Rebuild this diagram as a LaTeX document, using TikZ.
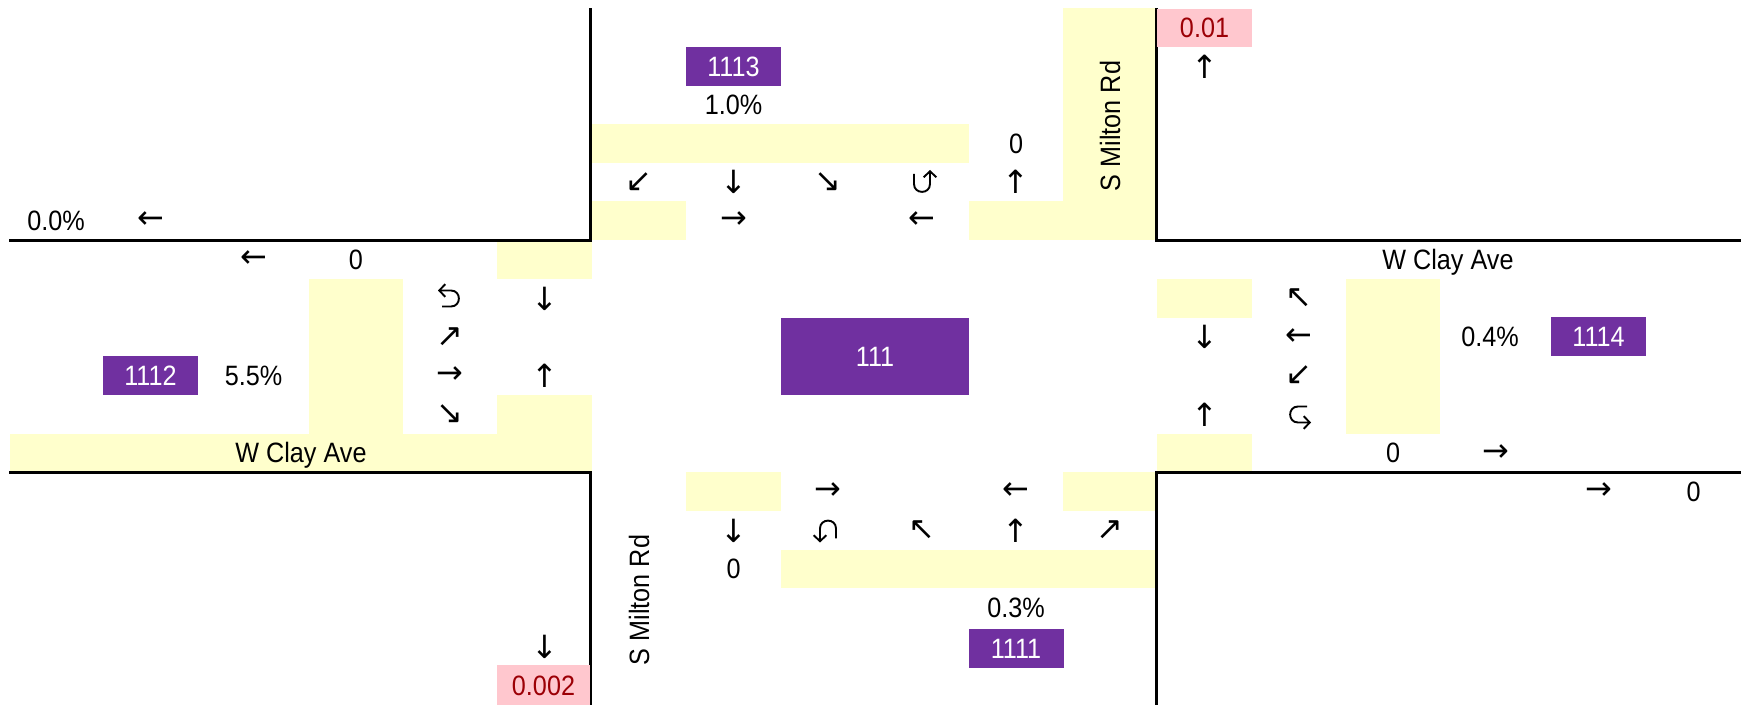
\documentclass[tikz,border=0pt]{standalone}
\usepackage{fontspec}
\usetikzlibrary{arrows.meta}
\setmainfont[FakeStretch=0.9]{Liberation Sans}
\newfontfamily\arrowfont{DejaVu Sans}
\definecolor{roadfill}{HTML}{FFFFCC}
\definecolor{zonefill}{HTML}{7030A0}
\definecolor{flagfill}{HTML}{FFC7CE}
\definecolor{flagtext}{HTML}{9C0006}
\tikzset{
  lbl/.style={inner sep=0pt, font=\fontsize{14}{16}\selectfont, text height=10pt, text depth=0pt},
  arw/.style={inner sep=0pt, font=\arrowfont\fontsize{16}{18}\selectfont},
  zonebox/.style={lbl, fill=zonefill, text=white, minimum width=47.5pt, minimum height=19.5pt},
  flagbox/.style={lbl, fill=flagfill, text=flagtext, minimum width=47.5pt, minimum height=19pt},
  road/.style={fill=roadfill},
  curb/.style={line width=1.5pt, line join=miter},
  uturn/.style={line width=0.95pt, line join=round, -{Straight Barb[length=3pt,width=6.4pt,line width=0.95pt]}},
  pics/uturnup/.style={code={\draw[uturn] (-8,-8) -- (-8,2) .. controls (-8,12.5) and (8,12.5) .. (8,2) -- (8,-12);}},
  pics/uturnleft/.style={code={\draw[uturn] (-8,8) -- (1,8) .. controls (11.5,8) and (11.5,-8) .. (1,-8) -- (-12,-8);}},
  pics/uturnright/.style={code={\draw[uturn] (8,-8) -- (-1,-8) .. controls (-11.5,-8) and (-11.5,8) .. (-1,8) -- (12,8);}},
  pics/uturndown/.style={code={\draw[uturn] (8,8) -- (8,-2) .. controls (8,-12.5) and (-8,-12.5) .. (-8,-2) -- (-8,12);}}
}
\begin{document}
\begin{tikzpicture}[x=0.5pt,y=-0.5pt]
\fill[white] (0,0) rectangle (1741,705);
\useasboundingbox (0,0) rectangle (1741,705);
% yellow road cells
\fill[road] (592,124) rectangle (969,163);
\fill[road] (592,201) rectangle (686,240);
\fill[road] (969,201) rectangle (1157,240);
\fill[road] (1063,8) rectangle (1157,240);
\fill[road] (497,240) rectangle (592,279);
\fill[road] (309,279) rectangle (403,434);
\fill[road] (497,395) rectangle (592,472);
\fill[road] (10,434) rectangle (592,472);
\fill[road] (1157,279) rectangle (1252,318);
\fill[road] (1346,279) rectangle (1440,434);
\fill[road] (1157,434) rectangle (1252,472);
\fill[road] (686,472) rectangle (781,511);
\fill[road] (1063,472) rectangle (1157,511);
\fill[road] (781,550) rectangle (1157,588);
% curbs
\draw[curb] (9,240.5) -- (590,240.5) -- (590,8);
\draw[curb] (9,472.5) -- (590,472.5) -- (590,705);
\draw[curb] (1741,240.5) -- (1156.5,240.5) -- (1156.5,8);
\draw[curb] (1741,472.5) -- (1156.5,472.5) -- (1156.5,705);
% zone boxes
\node[zonebox] (z1113) at (733.5,66.5) {1113};
\node[zonebox] (z1112) at (150.5,375.5) {1112};
\node[zonebox] (z1114) at (1598.5,337) {1114};
\node[zonebox] (z1111) at (1016,648) {1111};
\node[zonebox, minimum width=94pt, minimum height=38.5pt] (z111) at (875,357) {111};
% flag boxes
\node[flagbox] (f001) at (1204.5,28) {0.01};
\node[flagbox, minimum width=46.5pt, minimum height=20pt] (f0002) at (543.5,685) {0.002};
% street names
\node[lbl, rotate=90] (smiltonN) at (1110,126) {S Milton Rd};
\node[lbl, rotate=90] (smiltonS) at (639,600) {S Milton Rd};
\node[lbl] (wclayW) at (301,453) {W Clay Ave};
\node[lbl] (wclayE) at (1448,259.5) {W Clay Ave};
% numbers
\node[lbl] (pN) at (733.5,105) {1.0\%};
\node[lbl] (pW) at (56,220.5) {0.0\%};
\node[lbl] (pW2) at (253.5,375.5) {5.5\%};
\node[lbl] (pE) at (1490,337) {0.4\%};
\node[lbl] (pS) at (1016,607.5) {0.3\%};
\node[lbl] (nN) at (1016,143.5) {0};
\node[lbl] (nW) at (356,259.5) {0};
\node[lbl] (nE) at (1393,453) {0};
\node[lbl] (nE2) at (1693.5,491.5) {0};
\node[lbl] (nS) at (733.5,569) {0};
% arrows north side
\node[arw] (aN0) at (1204.5,66.5) {↑};
\node[arw] (aN1) at (639,182) {↙};
\node[arw] (aN2) at (733.5,182) {↓};
\node[arw] (aN3) at (828,182) {↘};
\pic at (922,182) {uturnup};
\node[arw] (aN5) at (1016,182) {↑};
\node[arw] (aN6) at (733.5,220.5) {→};
\node[arw] (aN7) at (922,220.5) {←};
\node[arw] (aN8) at (150.5,220.5) {←};
% arrows west side
\node[arw] (aW1) at (253.5,259.5) {←};
\pic at (450,298.5) {uturnleft};
\node[arw] (aW3) at (544.5,298.5) {↓};
\node[arw] (aW4) at (450,337) {↗};
\node[arw] (aW5) at (450,375.5) {→};
\node[arw] (aW6) at (544.5,375.5) {↑};
\node[arw] (aW7) at (450,414.5) {↘};
% arrows east side
\node[arw] (aE1) at (1299,298.5) {↖};
\node[arw] (aE2) at (1204.5,337) {↓};
\node[arw] (aE3) at (1299,337) {←};
\node[arw] (aE4) at (1299,375.5) {↙};
\node[arw] (aE5) at (1204.5,414.5) {↑};
\pic at (1299,414.5) {uturnright};
\node[arw] (aE7) at (1495.5,453) {→};
\node[arw] (aE8) at (1598.5,491.5) {→};
% arrows south side
\node[arw] (aS1) at (828,491.5) {→};
\node[arw] (aS2) at (1016,491.5) {←};
\node[arw] (aS3) at (733.5,530.5) {↓};
\pic at (828,530.5) {uturndown};
\node[arw] (aS5) at (922,530.5) {↖};
\node[arw] (aS6) at (1016,530.5) {↑};
\node[arw] (aS7) at (1110,530.5) {↗};
\node[arw] (aS8) at (544.5,646.5) {↓};
\end{tikzpicture}
\end{document}
